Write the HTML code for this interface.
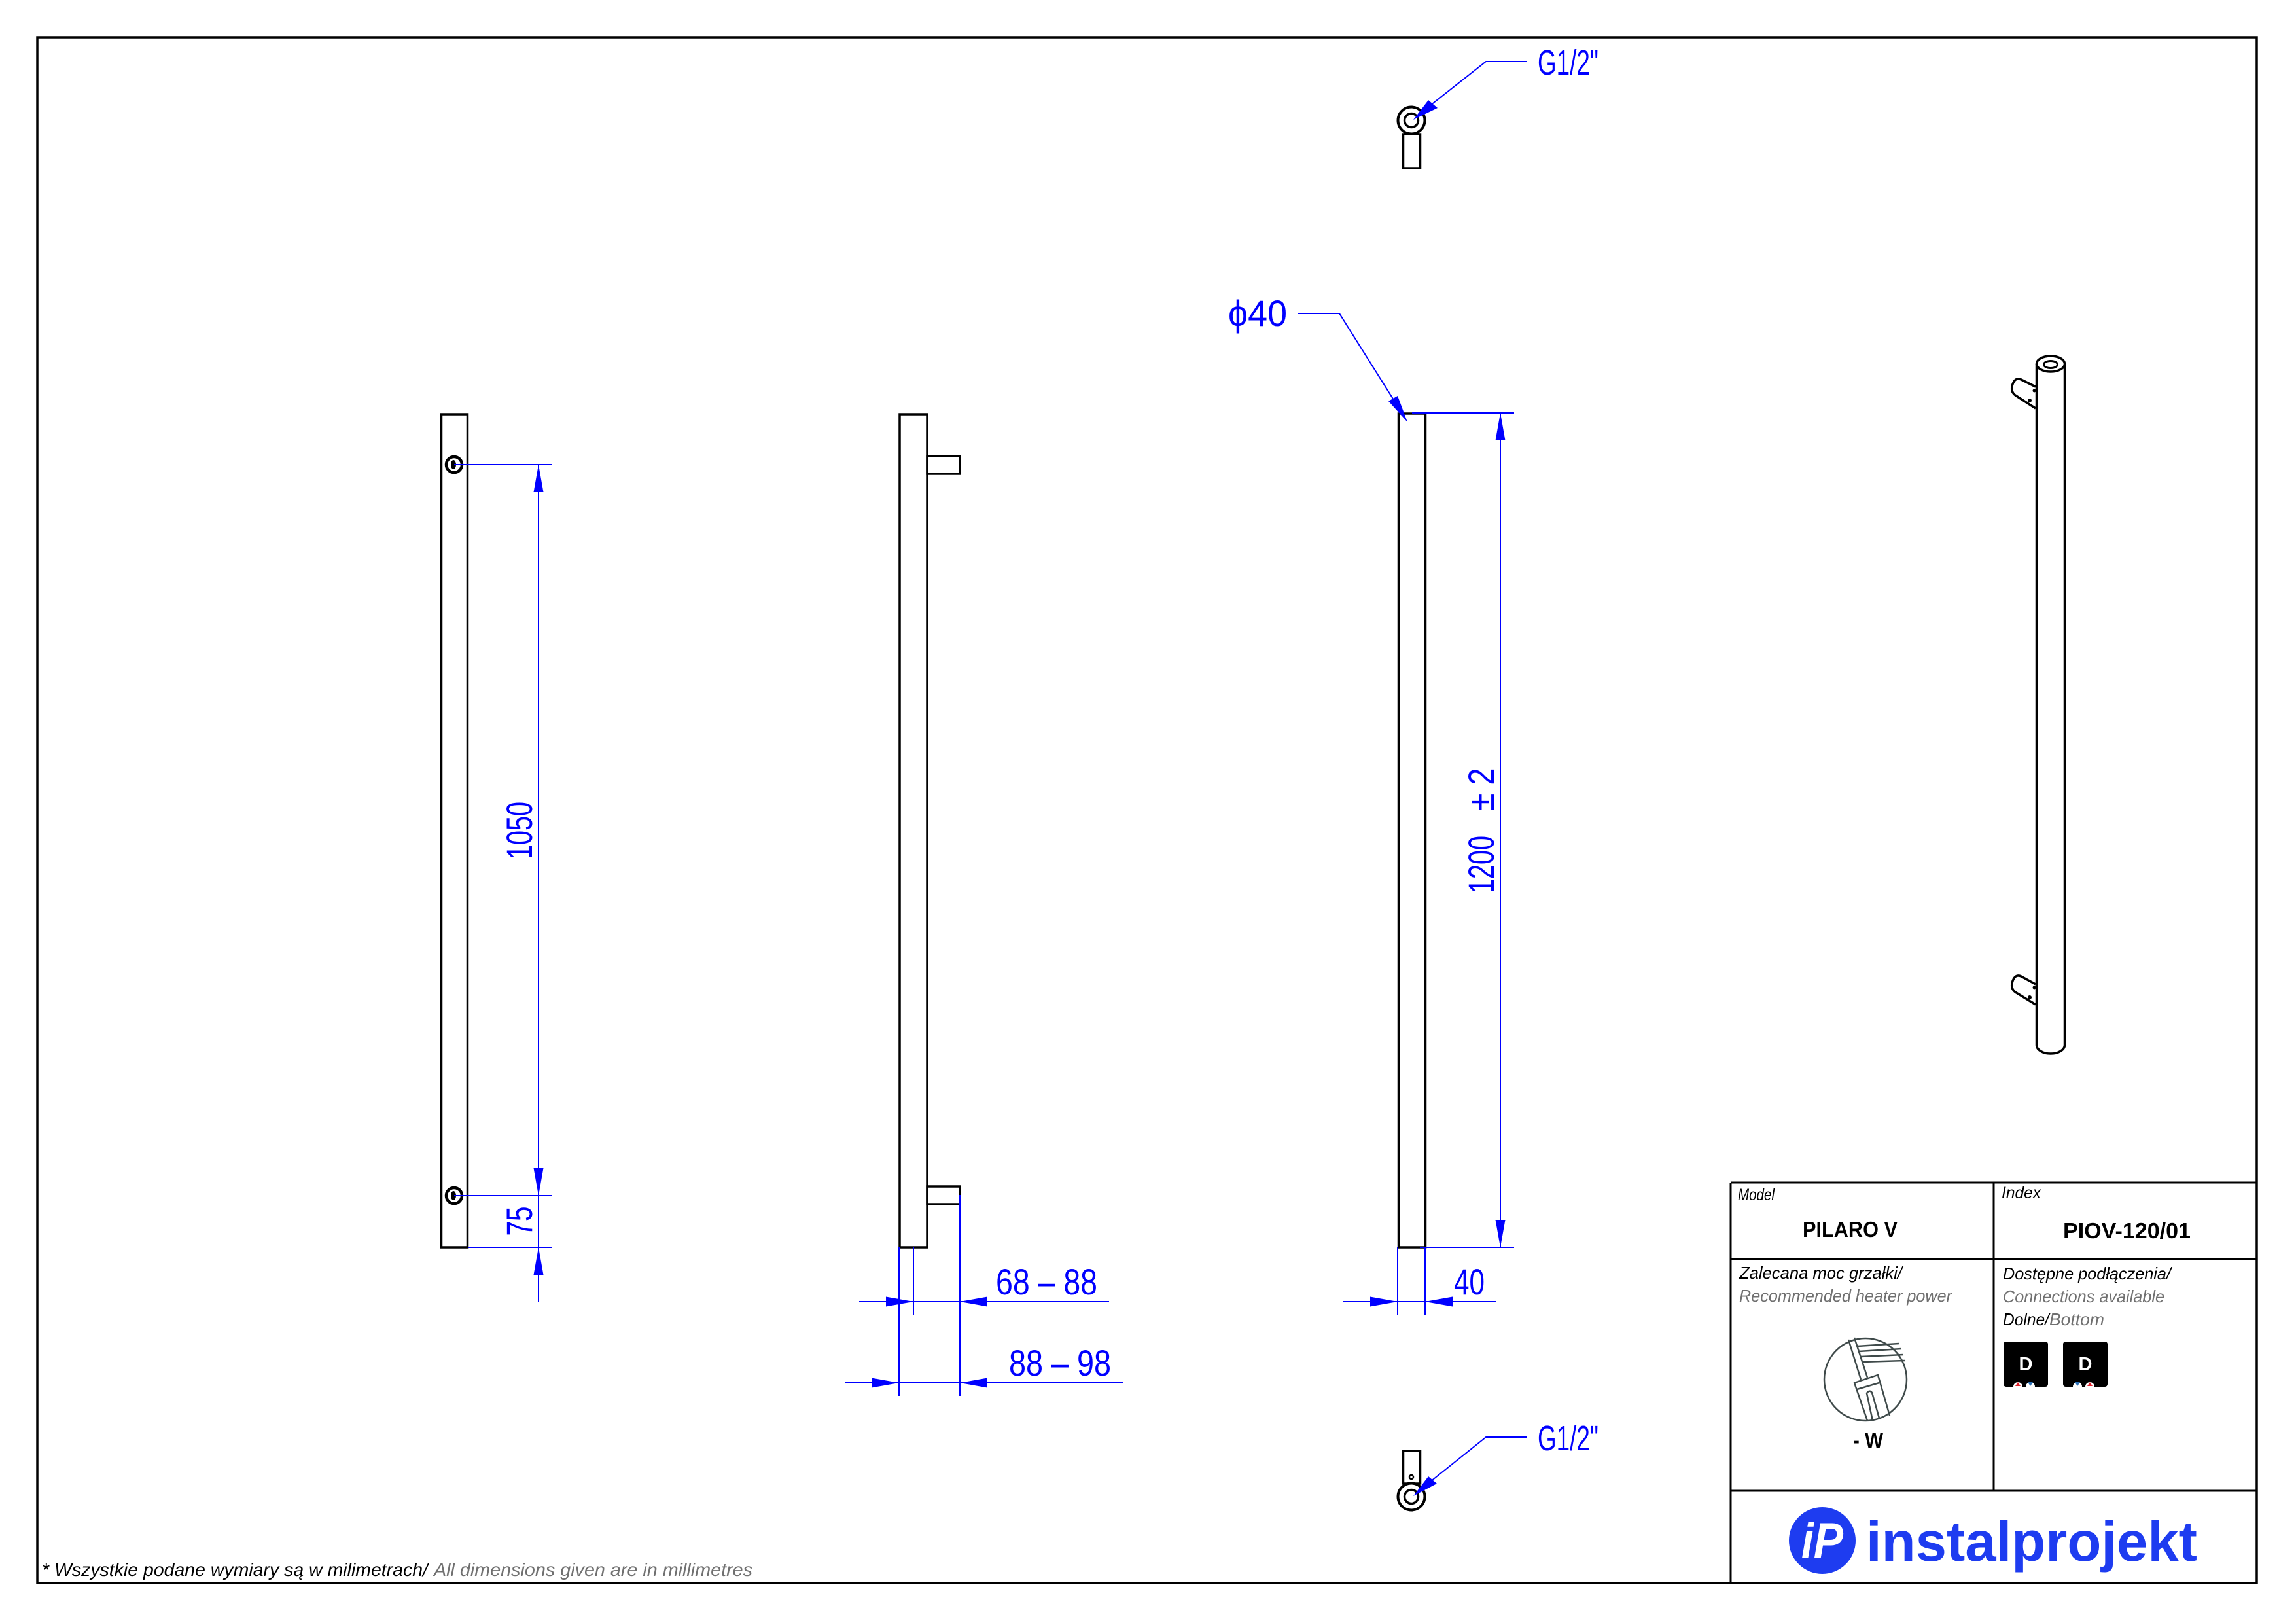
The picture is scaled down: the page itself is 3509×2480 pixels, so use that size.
<!DOCTYPE html>
<html><head><meta charset="utf-8"><style>
html,body{margin:0;padding:0;background:#fff;}
svg{display:block;}
</style></head><body>
<svg width="3509" height="2480" viewBox="0 0 3509 2480" xmlns="http://www.w3.org/2000/svg">
<rect x="0" y="0" width="3509" height="2480" fill="#fff"/>
<!-- border -->
<rect x="57" y="57" width="3392" height="2362" fill="none" stroke="#000" stroke-width="3.5"/>

<!-- ===== VIEW 1 ===== -->
<g fill="none" stroke="#000" stroke-width="3.5">
<rect x="674.5" y="633" width="40" height="1273"/>
<circle cx="694" cy="710" r="12" stroke-width="4.5"/>
<circle cx="694" cy="1827" r="12" stroke-width="4.5"/>
</g>
<ellipse cx="693" cy="710" rx="4" ry="7" fill="#000"/>
<ellipse cx="693" cy="1827" rx="4" ry="7" fill="#000"/>
<g stroke="#0000ff" stroke-width="2" fill="none">
<line x1="694" y1="710" x2="844" y2="710"/>
<line x1="694" y1="1827" x2="844" y2="1827"/>
<line x1="715" y1="1906" x2="844" y2="1906"/>
<line x1="823" y1="710" x2="823" y2="1989"/>
</g>
<g fill="#0000ff">
<polygon points="823,710 815.5,752 830.5,752"/>
<polygon points="823,1827 815.5,1785 830.5,1785"/>
<polygon points="823,1906 815.5,1948 830.5,1948"/>
</g>
<g fill="#0000ff" font-family="Liberation Sans, sans-serif" font-size="56">
<text transform="translate(813,1269) rotate(-90)" text-anchor="middle" textLength="88" lengthAdjust="spacingAndGlyphs">1050</text>
<text transform="translate(813,1866) rotate(-90)" text-anchor="middle" textLength="45" lengthAdjust="spacingAndGlyphs">75</text>
</g>

<!-- ===== VIEW 2 ===== -->
<g fill="none" stroke="#000" stroke-width="3.5">
<rect x="1375" y="633" width="42" height="1273"/>
<rect x="1417" y="697" width="50" height="27"/>
<rect x="1417" y="1813" width="50" height="27"/>
</g>
<g stroke="#0000ff" stroke-width="2" fill="none">
<line x1="1374" y1="1906" x2="1374" y2="2133"/>
<line x1="1396" y1="1906" x2="1396" y2="2010"/>
<line x1="1467" y1="1826" x2="1467" y2="2133"/>
<line x1="1313" y1="1989" x2="1695" y2="1989"/>
<line x1="1291" y1="2113" x2="1716" y2="2113"/>
</g>
<g fill="#0000ff">
<polygon points="1396,1989 1354,1981.5 1354,1996.5"/>
<polygon points="1467,1989 1509,1981.5 1509,1996.5"/>
<polygon points="1374,2113 1332,2105.5 1332,2120.5"/>
<polygon points="1467,2113 1509,2105.5 1509,2120.5"/>
</g>
<g fill="#0000ff" font-family="Liberation Sans, sans-serif" font-size="56">
<text x="1522" y="1978" textLength="155" lengthAdjust="spacingAndGlyphs">68 – 88</text>
<text x="1542" y="2102" textLength="156" lengthAdjust="spacingAndGlyphs">88 – 98</text>
</g>

<!-- ===== VIEW 3 ===== -->
<g fill="none" stroke="#000" stroke-width="3.5">
<rect x="2137.5" y="632" width="41" height="1274"/>
</g>
<g stroke="#0000ff" stroke-width="2" fill="none">
<line x1="2158" y1="631" x2="2314" y2="631"/>
<line x1="2170" y1="1906" x2="2314" y2="1906"/>
<line x1="2293" y1="631" x2="2293" y2="1906"/>
<line x1="2136" y1="1906" x2="2136" y2="2010"/>
<line x1="2178" y1="1906" x2="2178" y2="2010"/>
<line x1="2053" y1="1989" x2="2287" y2="1989"/>
<polyline points="1984,479 2047,479 2140,627"/>
</g>
<g fill="#0000ff">
<polygon points="2293,631 2285.5,673 2300.5,673"/>
<polygon points="2293,1906 2285.5,1864 2300.5,1864"/>
<polygon points="2136,1989 2094,1981.5 2094,1996.5"/>
<polygon points="2178,1989 2220,1981.5 2220,1996.5"/>
<polygon points="2151,645 2136,605 2122,613"/>
</g>
<g fill="#0000ff" font-family="Liberation Sans, DejaVu Sans, sans-serif" font-size="56">
<text transform="translate(2283,1321) rotate(-90)" text-anchor="middle" textLength="88" lengthAdjust="spacingAndGlyphs">1200</text>
<text transform="translate(2283,1206) rotate(-90)" text-anchor="middle" textLength="65" lengthAdjust="spacingAndGlyphs">± 2</text>
<text x="2222" y="1978" textLength="47" lengthAdjust="spacingAndGlyphs">40</text>
<text x="1877" y="498" textLength="90" lengthAdjust="spacingAndGlyphs">ϕ40</text>
</g>

<!-- ===== G1/2 top ===== -->
<g fill="none" stroke="#000" stroke-width="3.5">
<circle cx="2157" cy="184" r="20.5" stroke-width="4"/>
<circle cx="2157" cy="184" r="10.5"/>
<rect x="2144.5" y="205" width="26" height="52"/>
</g>
<g stroke="#0000ff" stroke-width="2" fill="none">
<polyline points="2333,94 2271,94 2186,161"/>
</g>
<polygon points="2160,183 2183,153 2197,165" fill="#0000ff"/>
<text x="2350" y="114" fill="#0000ff" font-family="Liberation Sans, sans-serif" font-size="54" textLength="93" lengthAdjust="spacingAndGlyphs">G1/2"</text>

<!-- ===== G1/2 bottom ===== -->
<g fill="none" stroke="#000" stroke-width="3.5">
<rect x="2144.5" y="2217" width="26" height="50"/>
<circle cx="2157" cy="2287" r="20.5" fill="#fff" stroke-width="4"/>
<circle cx="2157" cy="2287" r="10.5"/>
<circle cx="2157" cy="2257" r="3" stroke-width="2.5"/>
</g>
<g stroke="#0000ff" stroke-width="2" fill="none">
<polyline points="2333,2196 2271,2196 2186,2264"/>
</g>
<polygon points="2160,2286 2183,2256 2196,2267" fill="#0000ff"/>
<text x="2350" y="2216" fill="#0000ff" font-family="Liberation Sans, sans-serif" font-size="54" textLength="93" lengthAdjust="spacingAndGlyphs">G1/2"</text>

<!-- ===== VIEW 4 (3D) ===== -->
<g fill="none" stroke="#000" stroke-width="3.5" stroke-linejoin="round">
<path d="M3111,591 L3089,580 Q3080,576 3076,587 Q3072,598 3080,604 L3111,624"/>
<path d="M3111,1504 L3089,1492 Q3080,1488 3076,1499 Q3072,1510 3080,1516 L3111,1535"/>
<line x1="3112.5" y1="556" x2="3112.5" y2="1597"/>
<line x1="3155.5" y1="556" x2="3155.5" y2="1597"/>
<path d="M3112.5,1597 A21.5,13 0 0 0 3155.5,1597"/>
<ellipse cx="3134" cy="556" rx="21.5" ry="12" fill="#fff"/>
<ellipse cx="3134" cy="557" rx="10.5" ry="5.5" stroke-width="3"/>
</g>
<g fill="#000">
<circle cx="3109" cy="597" r="2.5"/><circle cx="3102" cy="612" r="3"/>
<circle cx="3109" cy="1509" r="2.5"/><circle cx="3102" cy="1524" r="3"/>
</g>

<!-- ===== TITLE BLOCK ===== -->
<g stroke="#000" stroke-width="3" fill="none">
<line x1="2645" y1="1807" x2="3449" y2="1807"/>
<line x1="2645" y1="1807" x2="2645" y2="2419"/>
<line x1="3047" y1="1807" x2="3047" y2="2278"/>
<line x1="2645" y1="1924" x2="3449" y2="1924"/>
<line x1="2645" y1="2278" x2="3449" y2="2278"/>
</g>
<g font-family="Liberation Sans, sans-serif">
<text x="2656" y="1834" font-size="25" font-style="italic" fill="#000" textLength="56" lengthAdjust="spacingAndGlyphs">Model</text>
<text x="3059" y="1831" font-size="25" font-style="italic" fill="#000" textLength="60" lengthAdjust="spacingAndGlyphs">Index</text>
<text x="2755" y="1890" font-size="33" font-weight="bold" fill="#000" textLength="145" lengthAdjust="spacingAndGlyphs">PILARO V</text>
<text x="3153" y="1892" font-size="33" font-weight="bold" fill="#000" textLength="195" lengthAdjust="spacingAndGlyphs">PIOV-120/01</text>
<text x="2658" y="1954" font-size="26" font-style="italic" fill="#000" textLength="249" lengthAdjust="spacingAndGlyphs">Zalecana moc grzałki/</text>
<text x="2658" y="1989" font-size="26" font-style="italic" fill="#707070" textLength="325" lengthAdjust="spacingAndGlyphs">Recommended heater power</text>
<text x="3061" y="1955" font-size="26" font-style="italic" fill="#000" textLength="257" lengthAdjust="spacingAndGlyphs">Dostępne podłączenia/</text>
<text x="3061" y="1990" font-size="26" font-style="italic" fill="#707070" textLength="247" lengthAdjust="spacingAndGlyphs">Connections available</text>
<text x="3061" y="2025" font-size="26" font-style="italic" fill="#000" textLength="71" lengthAdjust="spacingAndGlyphs">Dolne/</text>
<text x="3132" y="2025" font-size="26" font-style="italic" fill="#707070" textLength="84" lengthAdjust="spacingAndGlyphs">Bottom</text>
<text x="2832" y="2212" font-size="32" font-weight="bold" fill="#000" textLength="46" lengthAdjust="spacingAndGlyphs">- W</text>
</g>
<!-- heater icon -->
<g transform="translate(-4,-5)" stroke="#3f4a4a" stroke-width="2.5" fill="none" stroke-linejoin="round">
<circle cx="2855" cy="2113" r="63"/>
<line x1="2829" y1="2052" x2="2848" y2="2113"/>
<line x1="2838" y1="2049" x2="2858" y2="2110"/>
<line x1="2843" y1="2062" x2="2906" y2="2058"/>
<line x1="2845" y1="2070" x2="2910" y2="2066"/>
<line x1="2848" y1="2078" x2="2913" y2="2075"/>
<line x1="2850" y1="2086" x2="2915" y2="2084"/>
<polyline points="2858,2176 2838,2118 2874,2106 2892,2168"/>
<line x1="2842" y1="2128" x2="2876" y2="2118"/>
<path d="M2866,2176 L2857,2134 Q2861,2128 2865,2133 L2876,2172"/>
</g>
<!-- D icons -->
<g transform="translate(-9,-4)">
<rect x="3071" y="2054" width="68" height="69" rx="4" fill="#000"/>
<text x="3105" y="2098" font-family="Liberation Sans, sans-serif" font-size="29" font-weight="bold" fill="#fff" text-anchor="middle">D</text>
<path d="M3086,2123 A7,7 0 0 1 3100,2123 Z M3105,2123 A7,7 0 0 1 3119,2123 Z" fill="#fff"/>
<polygon points="3089,2122 3097,2122 3093,2116" fill="#e0202a"/>
<polygon points="3108,2116 3116,2116 3112,2122" fill="#2a6fb5"/>
</g>
<g transform="translate(-11,-4)">
<rect x="3164" y="2054" width="68" height="69" rx="4" fill="#000"/>
<text x="3198" y="2098" font-family="Liberation Sans, sans-serif" font-size="29" font-weight="bold" fill="#fff" text-anchor="middle">D</text>
<path d="M3179,2123 A7,7 0 0 1 3193,2123 Z M3198,2123 A7,7 0 0 1 3212,2123 Z" fill="#fff"/>
<polygon points="3182,2116 3190,2116 3186,2122" fill="#2a6fb5"/>
<polygon points="3201,2122 3209,2122 3205,2116" fill="#e0202a"/>
</g>
<!-- logo -->
<circle cx="2785" cy="2354" r="51" fill="#1e3cf0"/>
<text x="2785" y="2380" font-family="Liberation Sans, sans-serif" font-size="76" font-weight="bold" font-style="italic" fill="#fff" text-anchor="middle" textLength="64" lengthAdjust="spacingAndGlyphs">iP</text>
<text x="2852" y="2385" font-family="Liberation Sans, sans-serif" font-size="85" font-weight="bold" fill="#1e3cf0" textLength="506" lengthAdjust="spacingAndGlyphs">instalprojekt</text>

<!-- bottom note -->
<g font-family="Liberation Sans, sans-serif" font-size="28" font-style="italic">
<text x="64" y="2408" fill="#000" textLength="590" lengthAdjust="spacingAndGlyphs">* Wszystkie podane wymiary są w milimetrach/</text>
<text x="663" y="2408" fill="#707070" textLength="487" lengthAdjust="spacingAndGlyphs">All dimensions given are in millimetres</text>
</g>
</svg>
</body></html>
